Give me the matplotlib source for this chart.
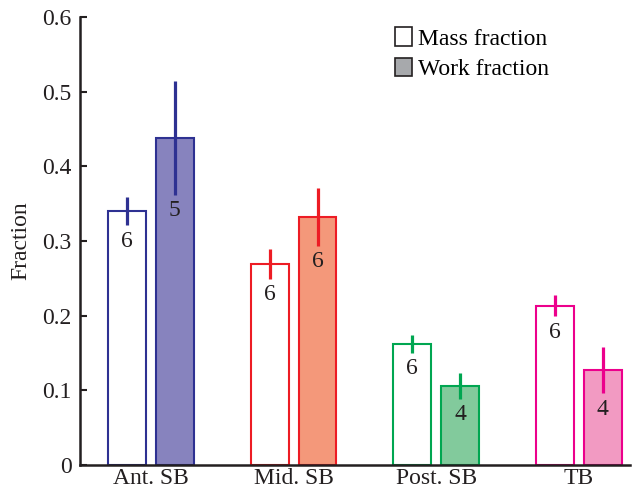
import matplotlib.pyplot as plt
import numpy as np
from matplotlib.patches import Patch

plt.rcParams['font.family'] = ['Liberation Serif', 'DejaVu Serif']

groups = ['Ant. SB', 'Mid. SB', 'Post. SB', 'TB']
mass = [0.340, 0.269, 0.162, 0.213]
mass_err = [0.019, 0.020, 0.012, 0.014]
work = [0.438, 0.332, 0.106, 0.127]
work_err = [0.076, 0.039, 0.017, 0.031]
n_mass = [6, 6, 6, 6]
n_work = [5, 6, 4, 4]

edge_cols = ['#2E3192', '#ED1C24', '#00A651', '#EC008C']
fill_cols = ['#8783BE', '#F4987A', '#82CA9C', '#F29AC2']

fig = plt.figure(figsize=(6.4, 4.94), dpi=100)
ax = fig.add_axes([0.125, 0.0587, 0.859, 0.907])

x = np.arange(len(groups))
w = 0.266
off = 0.168
fs = 17

for i in range(len(groups)):
    ax.bar(x[i] - off, mass[i], w, color='white', edgecolor=edge_cols[i], linewidth=1.5, zorder=2)
    ax.bar(x[i] + off, work[i], w, color=fill_cols[i], edgecolor=edge_cols[i], linewidth=1.5, zorder=2)
    ax.errorbar(x[i] - off, mass[i], yerr=mass_err[i], fmt='none', ecolor=edge_cols[i],
                elinewidth=2.3, capsize=0, zorder=3)
    ax.errorbar(x[i] + off, work[i], yerr=work_err[i], fmt='none', ecolor=edge_cols[i],
                elinewidth=2.3, capsize=0, zorder=3)
    ax.text(x[i] - off, mass[i] - mass_err[i] - 0.007, str(n_mass[i]), ha='center', va='top',
            fontsize=fs, color='#231F20', zorder=4)
    ax.text(x[i] + off, work[i] - work_err[i] - 0.007, str(n_work[i]), ha='center', va='top',
            fontsize=fs, color='#231F20', zorder=4)

ax.set_xlim(-0.497, 3.357)
ax.set_ylim(0, 0.6)
ax.set_yticks([0, 0.1, 0.2, 0.3, 0.4, 0.5, 0.6])
ax.set_yticklabels(['0', '0.1', '0.2', '0.3', '0.4', '0.5', '0.6'])
ax.set_xticks(x)
ax.set_xticklabels(groups)
ax.tick_params(axis='y', direction='in', length=5, width=1.5, labelsize=fs, colors='#231F20', pad=6)
ax.tick_params(axis='x', length=0, labelsize=fs, colors='#231F20', pad=2)
ax.set_ylabel('Fraction', fontsize=fs, color='#231F20', labelpad=8)

for s in ['top', 'right']:
    ax.spines[s].set_visible(False)
for s in ['left', 'bottom']:
    ax.spines[s].set_linewidth(1.8)
    ax.spines[s].set_color('#231F20')

handles = [Patch(facecolor='white', edgecolor='#231F20', linewidth=1.2),
           Patch(facecolor='#A7A9AC', edgecolor='#231F20', linewidth=1.2)]
ax.legend(handles, ['Mass fraction', 'Work fraction'], loc='upper left',
          bbox_to_anchor=(0.556, 0.998), frameon=False, fontsize=fs, borderaxespad=0,
          handlelength=0.7, handleheight=0.85, handletextpad=0.25, labelspacing=0.33)

fig.savefig('out.png', dpi=100)
